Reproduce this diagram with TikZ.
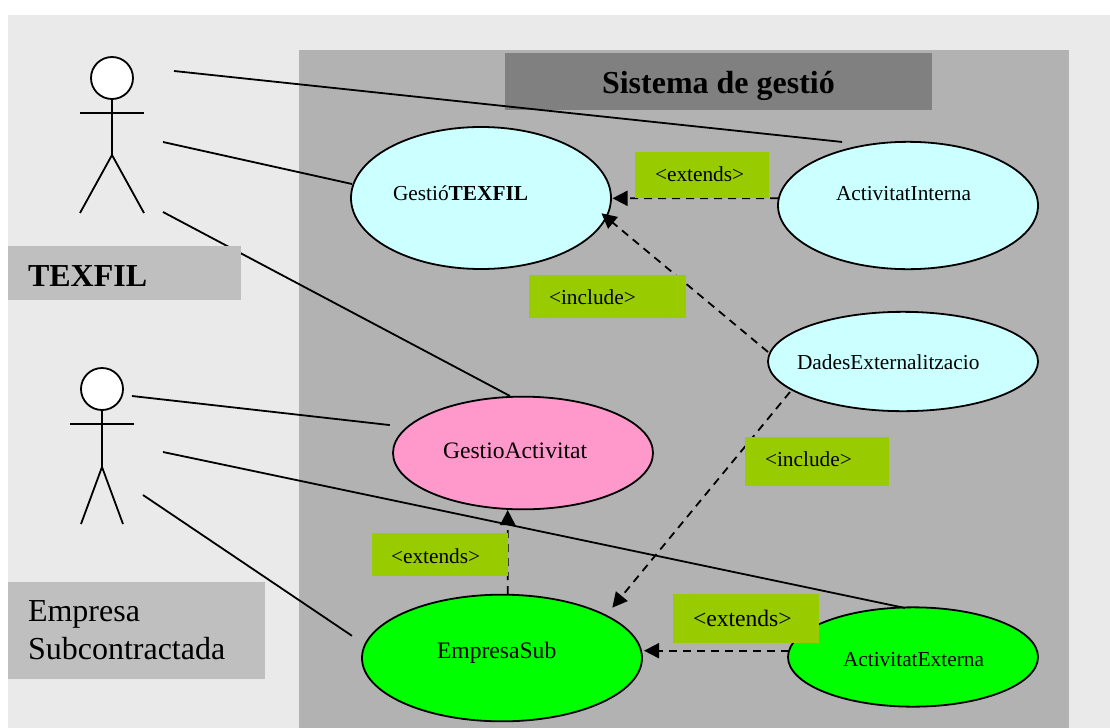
\documentclass[tikz,border=0pt]{standalone}
\usepackage{fontspec}
\setmainfont{Liberation Serif}
\usetikzlibrary{arrows.meta,shapes.geometric,calc}
\definecolor{bgcol}{HTML}{EAEAEA}
\definecolor{panelcol}{HTML}{B2B2B2}
\definecolor{titlecol}{HTML}{808080}
\definecolor{namecol}{HTML}{BFBFBF}
\definecolor{cyancol}{HTML}{CCFFFF}
\definecolor{pinkcol}{HTML}{FF99CC}
\definecolor{greencol}{HTML}{00FF00}
\definecolor{lblcol}{HTML}{99CC00}
\newcommand{\fsS}{\fontsize{16}{19}\selectfont}
\newcommand{\fsM}{\fontsize{17.7}{21}\selectfont}
\newcommand{\fsL}{\fontsize{24}{28.5}\selectfont}
\tikzset{
  usecase/.style={ellipse,draw=black,line width=1.35pt,inner sep=0pt,outer sep=0pt},
  txt/.style={anchor=base west,inner sep=0pt,outer sep=0pt,text=black},
  assoc/.style={draw=black,line width=1.35pt},
  actorline/.style={draw=black,line width=1.35pt},
  head/.style={circle,draw=black,fill=white,line width=1.35pt,minimum size=31.5pt,inner sep=0pt,outer sep=0pt},
  dep/.style={draw=black,line width=1.35pt,dash pattern=on 6pt off 4.5pt,-{Triangle[length=11.25pt,width=11.25pt]}},
  labelbox/.style={fill=lblcol},
}
\begin{document}
\begin{tikzpicture}[x=0.75pt,y=-0.75pt]
\useasboundingbox (0,0) rectangle (1110,728);
\fill[bgcol] (8,15) rectangle (1110,728);
\fill[panelcol] (299,50) rectangle (1069,728);
\fill[titlecol] (505,53) rectangle (932,110);
\node[txt,font=\fsL\bfseries] (title) at (602,93) {Sistema de gestió};

% use cases
\node[usecase,fill=cyancol,minimum width=195pt,minimum height=106.5pt] (gt) at (481,198) {};
\node[usecase,fill=cyancol,minimum width=195pt,minimum height=95.5pt] (ai) at (908,205.5) {};
\node[usecase,fill=cyancol,minimum width=202.5pt,minimum height=74.5pt] (de) at (903,361.5) {};
\node[usecase,fill=pinkcol,minimum width=195pt,minimum height=84.5pt] (ga) at (523,453) {};
\node[usecase,fill=greencol,minimum width=210pt,minimum height=95pt] (es) at (502,658) {};
\node[usecase,fill=greencol,minimum width=187.5pt,minimum height=74.5pt] (ae) at (913,657) {};

\node[txt,font=\fsS] (gtt) at (393,200) {Gestió\textbf{TEXFIL}};
\node[txt,font=\fsS] (ait) at (836,200) {ActivitatInterna};
\node[txt,font=\fsS] (det) at (797,369) {DadesExternalitzacio};
\node[txt,font=\fsM] (gat) at (443,458) {GestioActivitat};
\node[txt,font=\fsM] (est) at (437,658) {EmpresaSub};
\node[txt,font=\fsS] (aet) at (843,666) {ActivitatExterna};

% actors
\node[head] (h1) at (112,78) {};
\coordinate (hip1) at (112,155);
\coordinate (al1) at (80,113);
\coordinate (ar1) at (144,113);
\coordinate (ll1) at (80,213);
\coordinate (lr1) at (144,213);
\draw[actorline] (h1.south) -- (hip1);
\draw[actorline] (al1) -- (ar1);
\draw[actorline] (ll1) -- (hip1) -- (lr1);

\node[head] (h2) at (102,389) {};
\coordinate (hip2) at (102,467);
\coordinate (al2) at (70,424);
\coordinate (ar2) at (134,424);
\coordinate (ll2) at (81,524);
\coordinate (lr2) at (123,524);
\draw[actorline] (h2.south) -- (hip2);
\draw[actorline] (al2) -- (ar2);
\draw[actorline] (ll2) -- (hip2) -- (lr2);

% associations
\coordinate (s1a) at (174,71);
\coordinate (s1b) at (163,142);
\coordinate (s1c) at (163,212);
\coordinate (s2a) at (132,396);
\coordinate (s2b) at (163,452);
\coordinate (s2c) at (143,495);
\draw[assoc,shorten >=18pt] (s1a) -- ($(ai.center)+(-42,-61)$);
\draw[assoc] (s1b) -- ($(gt.center)+(-129,-14)$);
\draw[assoc] (s1c) -- ($(ga.center)+(-13,-57)$);
\draw[assoc,shorten >=13pt] (s2a) -- ($(ga.center)+(-116,-26)$);
\draw[assoc] (s2b) -- ($(ae.center)+(-8,-49)$);
\draw[assoc,shorten >=11.8pt] (s2c) -- ($(es.center)+(-137,-13.4)$);

% dependencies
\draw[dep] ($(ai.center)+(-130,-7.2)$) -- ($(gt.center)+(131.5,0.3)$);
\draw[dep] ($(de.center)+(-135,-9.5)$) -- ($(gt.center)+(120.5,15.3)$);
\draw[dep] ($(de.center)+(-113,30.5)$) -- ($(es.center)+(110.3,-50.3)$);
\draw[dep] ($(es.center)+(5.7,-64)$) -- ($(ga.center)+(-15.3,57)$);
\draw[dep] ($(ae.center)+(-124.5,-6.3)$) -- ($(es.center)+(142,-7.3)$);

% name boxes
\fill[namecol] (8,246) rectangle (241,300);
\node[txt,font=\fsL\bfseries] (n1) at (28,286) {TEXFIL};
\fill[namecol] (8,582) rectangle (265,679);
\node[txt,font=\fsL] (n2a) at (28,621) {Empresa};
\node[txt,font=\fsL] (n2b) at (28,659) {Subcontractada};

% labels
\fill[labelbox] (635,152) rectangle (769,197.7);
\node[txt,font=\fsS] (l1) at (655,181) {<extends>};
\fill[labelbox] (529,275) rectangle (686,318);
\node[txt,font=\fsS] (l2) at (549,304) {<include>};
\fill[labelbox] (745,437) rectangle (889,486);
\node[txt,font=\fsS] (l3) at (765,466) {<include>};
\fill[labelbox] (372,533) rectangle (507.5,576);
\node[txt,font=\fsS] (l4) at (391,563) {<extends>};
\fill[labelbox] (673,594) rectangle (819,643);
\node[txt,font=\fsM] (l5) at (693,626) {<extends>};
\end{tikzpicture}
\end{document}
